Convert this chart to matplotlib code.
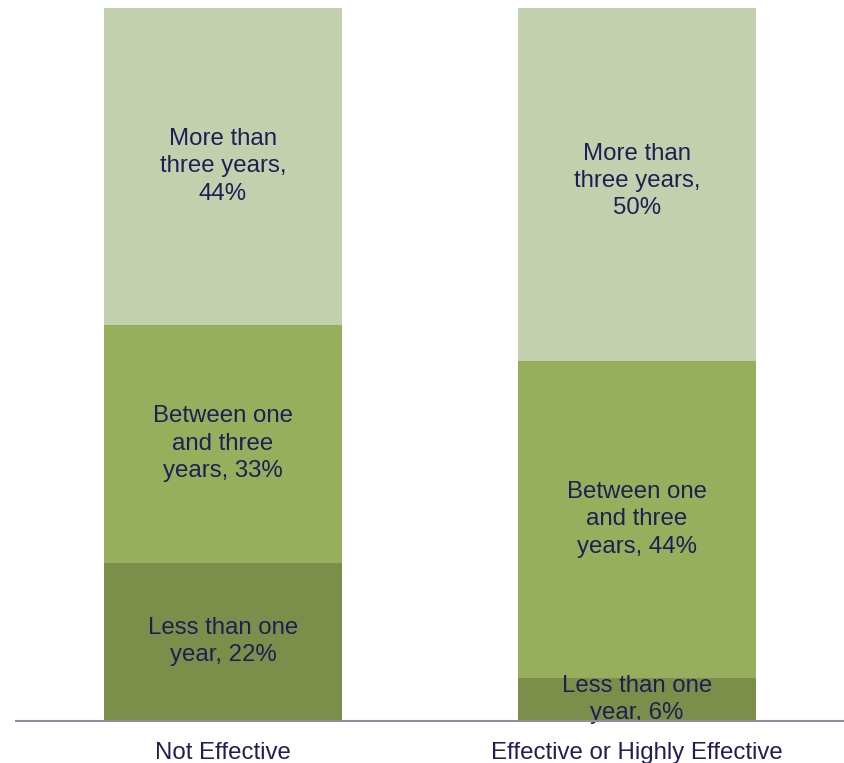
import numpy as np
import matplotlib
matplotlib.use("Agg")
import matplotlib.pyplot as plt

plt.rcParams['font.family'] = ['Liberation Sans', 'DejaVu Sans']

groups = ['Not Effective', 'Effective or Highly Effective']
segments = ['Less than one\nyear', 'Between one\nand three\nyears', 'More than\nthree years,\n']
less_than_one = [22, 6]
one_to_three = [33, 44]
more_than_three = [44, 50]

colors = ['#7C8F4A', '#97AF5C', '#C3D0AE']
text_color = '#1F1F55'

fig = plt.figure(figsize=(8.44, 7.63), dpi=100)
ax = fig.add_axes([0.019, 0.0551, 0.981, 0.9344])

x = np.arange(len(groups))
width = 0.573
bottom = np.zeros(len(groups))
series = [less_than_one, one_to_three, more_than_three]
for vals, col, name in zip(series, colors, segments):
    vals = np.array(vals, dtype=float)
    ax.bar(x, vals, width, bottom=bottom, color=col, zorder=2)
    for xi, b, v in zip(x, bottom, vals):
        if name.endswith('\n'):
            label = f'{name}{v:.0f}%'
        else:
            label = f'{name}, {v:.0f}%'
        ax.text(xi, b + v / 2, label, ha='center', va='center',
                fontsize=17.3, color=text_color, linespacing=1.31, zorder=3)
    bottom += vals

ax.set_xlim(-0.5, 1.5)
ax.set_ylim(0, 99)
ax.set_xticks(x)
ax.set_xticklabels(groups, fontsize=17.3, color=text_color)
ax.tick_params(axis='x', length=0, pad=15)
ax.set_yticks([])
for side in ['top', 'right', 'left']:
    ax.spines[side].set_visible(False)
ax.spines['bottom'].set_color('#8E8EA0')
ax.spines['bottom'].set_linewidth(1.5)
ax.spines['bottom'].set_zorder(4)

fig.savefig('out.png', dpi=100)
